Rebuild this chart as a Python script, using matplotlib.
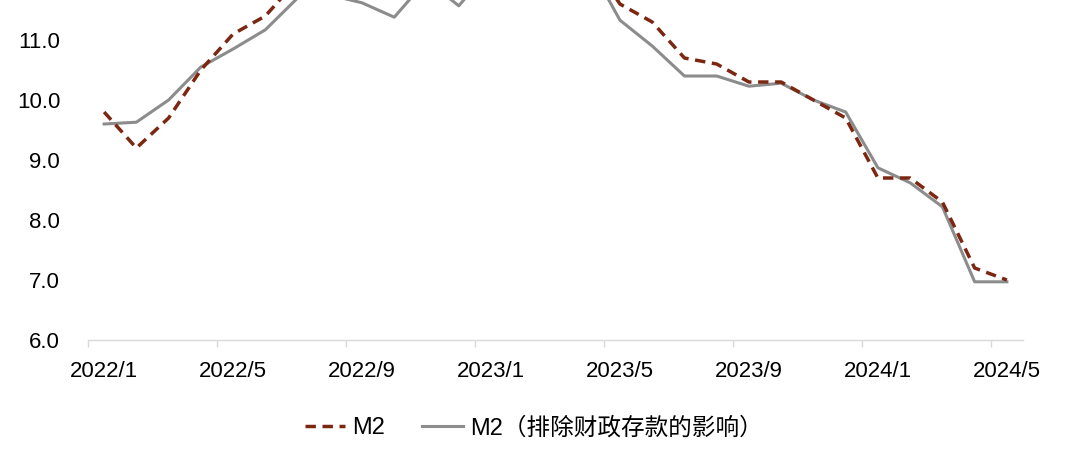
import numpy as np
import matplotlib.pyplot as plt

plt.rcParams['font.family'] = ['Liberation Sans', 'Noto Sans CJK SC', 'DejaVu Sans']

# 月份（2022/1 - 2024/5）
months = [f"{y}/{m}" for y in (2022, 2023, 2024) for m in range(1, 13)][:29]

# M2 同比（%）
m2 = [9.8, 9.2, 9.7, 10.5, 11.1, 11.4, 12.0, 12.2, 12.1, 11.8, 12.4, 11.8,
      12.6, 12.9, 12.7, 12.4, 11.6, 11.3, 10.7, 10.6, 10.3, 10.3, 10.0, 9.7,
      8.7, 8.7, 8.3, 7.2, 7.0]

# M2（排除财政存款的影响）
m2_ex = [9.6, 9.63, 10.0, 10.55, 10.85, 11.17, 11.7, 11.75, 11.62, 11.38, 12.0, 11.57,
         12.2, 12.4, 12.5, 12.3, 11.33, 10.9, 10.4, 10.4, 10.23, 10.28, 10.0, 9.8,
         8.87, 8.62, 8.22, 6.97, 6.97]

label_every = 4

fig = plt.figure(figsize=(10.8, 4.59), dpi=100)
ax = fig.add_axes([88 / 1080, 119 / 459, 935 / 1080, 340 / 459])

x = np.arange(len(months))
ax.plot(x, m2, color='#7B2712', lw=2.5, ls=(0, (3.0, 1.9)), label='M2', zorder=3)
ax.plot(x, m2_ex, color='#8C8C8C', lw=2.2, label='M2（排除财政存款的影响）', zorder=2)

ax.set_xlim(-0.5, len(months) - 0.5)
ax.set_ylim(6.0, 11.667)
ax.set_yticks(np.arange(6.0, 11.5, 1.0))
ax.set_yticklabels([f"{v:.1f}" for v in np.arange(6.0, 11.5, 1.0)])

# 刻度线在类别边界，标签在类别中心
ax.set_xticks(np.arange(-0.5, len(months) - 1, label_every))
ax.set_xticklabels([])
ax.set_xticks(x[::label_every], minor=True)
ax.set_xticklabels(months[::label_every], minor=True)
ax.tick_params(axis='x', which='major', length=5, color='#D9D9D9', width=1)
ax.tick_params(axis='x', which='minor', length=0, pad=15, labelsize=16)
ax.tick_params(axis='y', length=0, pad=20, labelsize=16)

for s in ('top', 'right', 'left'):
    ax.spines[s].set_visible(False)
ax.spines['bottom'].set_color('#D9D9D9')
ax.spines['bottom'].set_linewidth(1)

leg = fig.legend(loc='center', bbox_to_anchor=(0.494, 1 - 428 / 459), ncol=2,
                 frameon=False, fontsize=17, handlelength=1.7, handletextpad=0.3,
                 columnspacing=1.6)

fig.savefig('out.png', dpi=100)
